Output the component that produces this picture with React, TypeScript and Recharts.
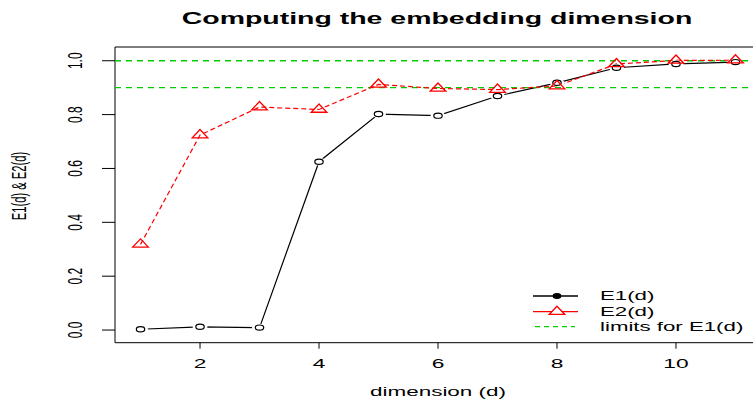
import React from 'react';
import { LineChart, Line, XAxis, YAxis, ReferenceLine, ReferenceArea, Legend } from 'recharts';

// values
const dims = [1, 2, 3, 4, 5, 6, 7, 8, 9, 10, 11];
const e1 = [0.003, 0.012, 0.009, 0.625, 0.802, 0.796, 0.869, 0.918, 0.974, 0.988, 0.995];
const e2 = [0.318, 0.724, 0.828, 0.819, 0.912, 0.897, 0.893, 0.906, 0.988, 1.001, 1.002];
const limits = [0.9, 1.0];
const xTicks = [2, 4, 6, 8, 10];
const yTicks = [0, 0.2, 0.4, 0.6, 0.8, 1.0];
const legendLabels = ['E1(d)', 'E2(d)', 'limits for E1(d)'];

const xDomain = [0.571, 11.429];
const yDomain = [-0.047, 1.051];

const data = dims.map((d, i) => ({ d, e1: e1[i], e2: e2[i] }));

const FONT = '"Liberation Sans", Arial, Helvetica, sans-serif';
const SX = 1.75; // the reference is stretched horizontally
const GREEN = '#00cd00';

const XTick = ({ x, y, payload }: any) => (
    <text
        transform={`translate(${x},${y + 19.6}) scale(${SX},1)`}
        textAnchor="middle"
        fontFamily={FONT}
        fontSize={13}
        fill="#000"
    >
        {payload.value}
    </text>
);

const YTick = ({ x, y, payload }: any) => (
    <text
        transform={`translate(${x - 20.3},${y}) scale(${SX},1) rotate(-90)`}
        textAnchor="middle"
        fontFamily={FONT}
        fontSize={12}
        fill="#000"
    >
        {Number(payload.value).toFixed(1)}
    </text>
);

const CircleDot = (props: any) => {
    const { cx, cy, index } = props;
    if (cx == null || cy == null) return <g key={`c${index}`} />;
    return (
        <g key={`c${index}`}>
            <ellipse cx={cx} cy={cy} rx={7.5} ry={3.8} fill="#fff" />
            <ellipse cx={cx} cy={cy} rx={4.2} ry={2.6} fill="none" stroke="#000" strokeWidth={1.2} />
        </g>
    );
};

const TriangleDot = (props: any) => {
    const { cx, cy, index } = props;
    if (cx == null || cy == null) return <g key={`t${index}`} />;
    const pts = `${cx},${cy - 5.5} ${cx + 7.8},${cy + 2.75} ${cx - 7.8},${cy + 2.75}`;
    return <polygon key={`t${index}`} points={pts} fill="none" stroke="#ff0000" strokeWidth={1.3} />;
};

const LegendContent = () => {
    const rows = [11, 26.7, 41.7];
    return (
        <svg width={233} height={50} style={{ display: 'block', overflow: 'visible' }}>
            <line x1={13} x2={58} y1={rows[0]} y2={rows[0]} stroke="#000" strokeWidth={1.3} />
            <ellipse cx={37} cy={rows[0]} rx={3.8} ry={2.4} fill="#000" stroke="#000" strokeWidth={1.2} />
            <line x1={13} x2={58} y1={rows[1]} y2={rows[1]} stroke="#ff0000" strokeWidth={1.3} />
            <polygon
                points={`37,${rows[1] - 5.5} ${37 + 7.8},${rows[1] + 2.75} ${37 - 7.8},${rows[1] + 2.75}`}
                fill="#fff"
                stroke="#ff0000"
                strokeWidth={1.3}
            />
            <line x1={15} x2={55} y1={rows[2]} y2={rows[2]} stroke={GREEN} strokeWidth={1.3} strokeDasharray="5 4" />
            {legendLabels.map((t, i) => (
                <text
                    key={t}
                    transform={`translate(80,${rows[i] + 4.3}) scale(1.78,1)`}
                    fontFamily={FONT}
                    fontSize={12.5}
                    fill="#000"
                >
                    {t}
                </text>
            ))}
        </svg>
    );
};

export default function App() {
    return (
        <div style={{ position: 'fixed', left: 0, top: 0, width: 753, height: 402, overflow: 'hidden', background: '#fff' }}>
            <LineChart width={770} height={402} data={data} margin={{ top: 47, right: 9, bottom: 0, left: 0 }}>
                <XAxis
                    dataKey="d"
                    type="number"
                    domain={xDomain}
                    allowDataOverflow
                    ticks={xTicks}
                    tickSize={6}
                    tickMargin={0}
                    axisLine={false}
                    tickLine={{ stroke: '#000' }}
                    tick={<XTick />}
                    height={59.3}
                />
                <YAxis
                    type="number"
                    domain={yDomain}
                    allowDataOverflow
                    ticks={yTicks}
                    tickSize={13}
                    tickMargin={0}
                    axisLine={false}
                    tickLine={{ stroke: '#000' }}
                    tick={<YTick />}
                    width={115}
                />
                <ReferenceArea
                    x1={xDomain[0]}
                    x2={xDomain[1]}
                    y1={yDomain[0]}
                    y2={yDomain[1]}
                    fill="none"
                    fillOpacity={0}
                    stroke="#000"
                    strokeWidth={1}
                />
                <Line
                    dataKey="e1"
                    stroke="#000"
                    strokeWidth={1.2}
                    dot={CircleDot}
                    activeDot={false}
                    isAnimationActive={false}
                />
                {limits.map((v) => (
                    <ReferenceLine key={v} y={v} stroke={GREEN} strokeWidth={1.4} strokeDasharray="6 5" />
                ))}
                <Line
                    dataKey="e2"
                    stroke="#ff0000"
                    strokeWidth={1.2}
                    strokeDasharray="5 3"
                    dot={TriangleDot}
                    activeDot={false}
                    isAnimationActive={false}
                />
                <Legend
                    layout="horizontal"
                    verticalAlign="middle"
                    align="center"
                    wrapperStyle={{ position: 'absolute', left: 520, top: 285, width: 233, height: 50 }}
                    content={LegendContent}
                />
            </LineChart>
            <svg width={753} height={402} style={{ position: 'absolute', left: 0, top: 0, pointerEvents: 'none' }}>
                <text
                    transform={`translate(437,24) scale(1.78,1)`}
                    textAnchor="middle"
                    fontFamily={FONT}
                    fontWeight="bold"
                    fontSize={16}
                    fill="#000"
                >
                    Computing the embedding dimension
                </text>
                <text
                    transform={`translate(438,396.3) scale(1.73,1)`}
                    textAnchor="middle"
                    fontFamily={FONT}
                    fontSize={13}
                    fill="#000"
                >
                    dimension (d)
                </text>
                <text
                    transform={`translate(26,186) scale(${SX},1) rotate(-90)`}
                    textAnchor="middle"
                    fontFamily={FONT}
                    fontSize={11.2}
                    fill="#000"
                >
                    E1(d) &amp; E2(d)
                </text>
            </svg>
        </div>
    );
}
